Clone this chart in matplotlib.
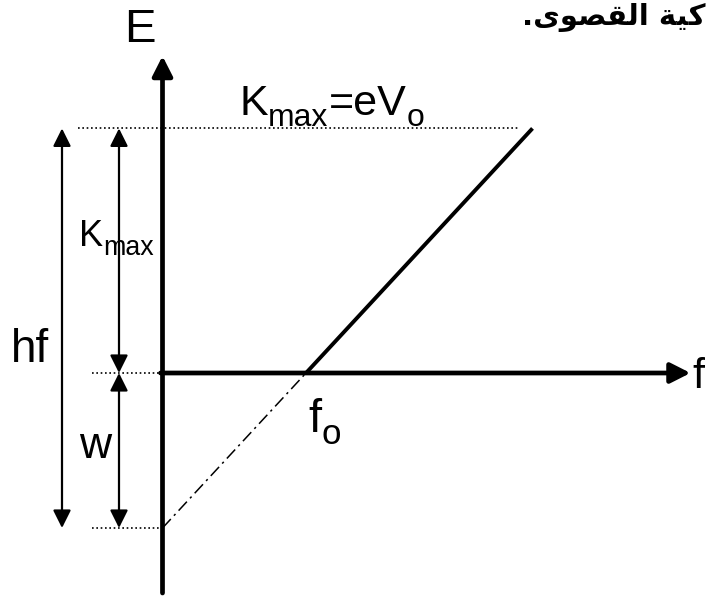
import matplotlib
matplotlib.use('Agg')
import matplotlib.pyplot as plt

plt.rcParams['font.family'] = 'Liberation Sans'

# photoelectric effect, E = h f - W (arbitrary units)
work_function = 1.55
planck_slope = 1.08
f_threshold = work_function / planck_slope
f_incident = 3.70
k_max = planck_slope * f_incident - work_function

f_range = [-1.625, 5.455]
E_range = [-2.23, 3.73]
f_axis_end = 5.28
E_axis_ends = [-2.20, 3.17]
guide_start = [-0.845, -0.705]     # left ends of the dotted guides
guide_end_top = 3.575
hf_arrow_x = -1.005
k_arrow_x = -0.435

# caption fragment, written in presentation forms (left to right visual order)
caption = ".\uFEEF\uFEEE\uFEBC\uFED8\uFEDF\uFE8D \uFE94\uFEF4\uFEDB"

fig = plt.figure(figsize=(7.08, 5.96), dpi=100)
ax = fig.add_axes([0, 0, 1, 1])
ax.set_xlim(f_range)
ax.set_ylim(E_range)
ax.axis('off')
renderer = fig.canvas.get_renderer()


def put_label(x, y, pieces, size):
    # pieces are (text, is_subscript); subscripts are smaller and dropped
    to_data = ax.transData.inverted()
    x0, y0 = ax.transData.transform((x, y))
    for s, sub in pieces:
        fs = size * 0.74 if sub else size
        dy = -size * 0.26 * fig.dpi / 72 if sub else 0
        px, py = to_data.transform((x0, y0 + dy))
        t = ax.text(px, py, s, fontsize=fs, ha='left', va='baseline')
        x0 = t.get_window_extent(renderer).x1


# axes with arrow heads
axis_arrow = dict(arrowstyle='-|>,head_length=0.75,head_width=0.38', lw=3.4,
                  color='black', mutation_scale=16, shrinkA=0, shrinkB=0)
ax.annotate('', xy=(0, E_axis_ends[1]), xytext=(0, E_axis_ends[0]), arrowprops=axis_arrow)
ax.annotate('', xy=(f_axis_end, 0), xytext=(-0.02, 0), arrowprops=axis_arrow)

# K = h f - W above threshold, extrapolated below
f_line = [f_threshold, f_incident]
E_line = [planck_slope * f - work_function for f in f_line]
ax.plot(f_line, E_line, color='black', lw=2.8, solid_capstyle='butt')
f_ext = [0, f_threshold]
E_ext = [planck_slope * f - work_function for f in f_ext]
ax.plot(f_ext, E_ext, color='black', lw=1.1, linestyle=(0, (8, 3, 1.5, 3)))

# dotted guide lines
dots = dict(color='black', lw=1.2, linestyle=(0, (1, 1.6)))
ax.plot([guide_start[0], guide_end_top], [k_max, k_max], **dots)
ax.plot([guide_start[1], 0], [0, 0], **dots)
ax.plot([guide_start[1], 0], [-work_function, -work_function], **dots)

# dimension arrows
dim_arrow = dict(arrowstyle='<|-|>,head_length=0.9,head_width=0.45', lw=1.6,
                 color='black', mutation_scale=12, shrinkA=0, shrinkB=0)
ax.annotate('', xy=(hf_arrow_x, k_max), xytext=(hf_arrow_x, -work_function), arrowprops=dim_arrow)
ax.annotate('', xy=(k_arrow_x, k_max), xytext=(k_arrow_x, 0), arrowprops=dim_arrow)
ax.annotate('', xy=(k_arrow_x, 0), xytext=(k_arrow_x, -work_function), arrowprops=dim_arrow)

# labels
ax.text(-0.225, 3.31, 'E', fontsize=34, ha='center', va='baseline')
ax.text(5.30, -0.15, 'f', fontsize=31, ha='left', va='baseline')
ax.text(-1.52, 0.11, 'hf', fontsize=33, ha='left', va='baseline')
ax.text(-0.83, -0.85, 'w', fontsize=32, ha='left', va='baseline')
put_label(-0.83, 1.27, [('K', False), ('max', True)], 26)
put_label(1.46, -0.59, [('f', False), ('o', True)], 34)
put_label(0.77, 2.58, [('K', False), ('max', True), ('=eV', False), ('o', True)], 31)
ax.text(5.43, 3.48, caption, fontsize=21, fontweight='bold', family=['DejaVu Sans'],
        ha='right', va='baseline')

fig.savefig('out.png', dpi=100)
